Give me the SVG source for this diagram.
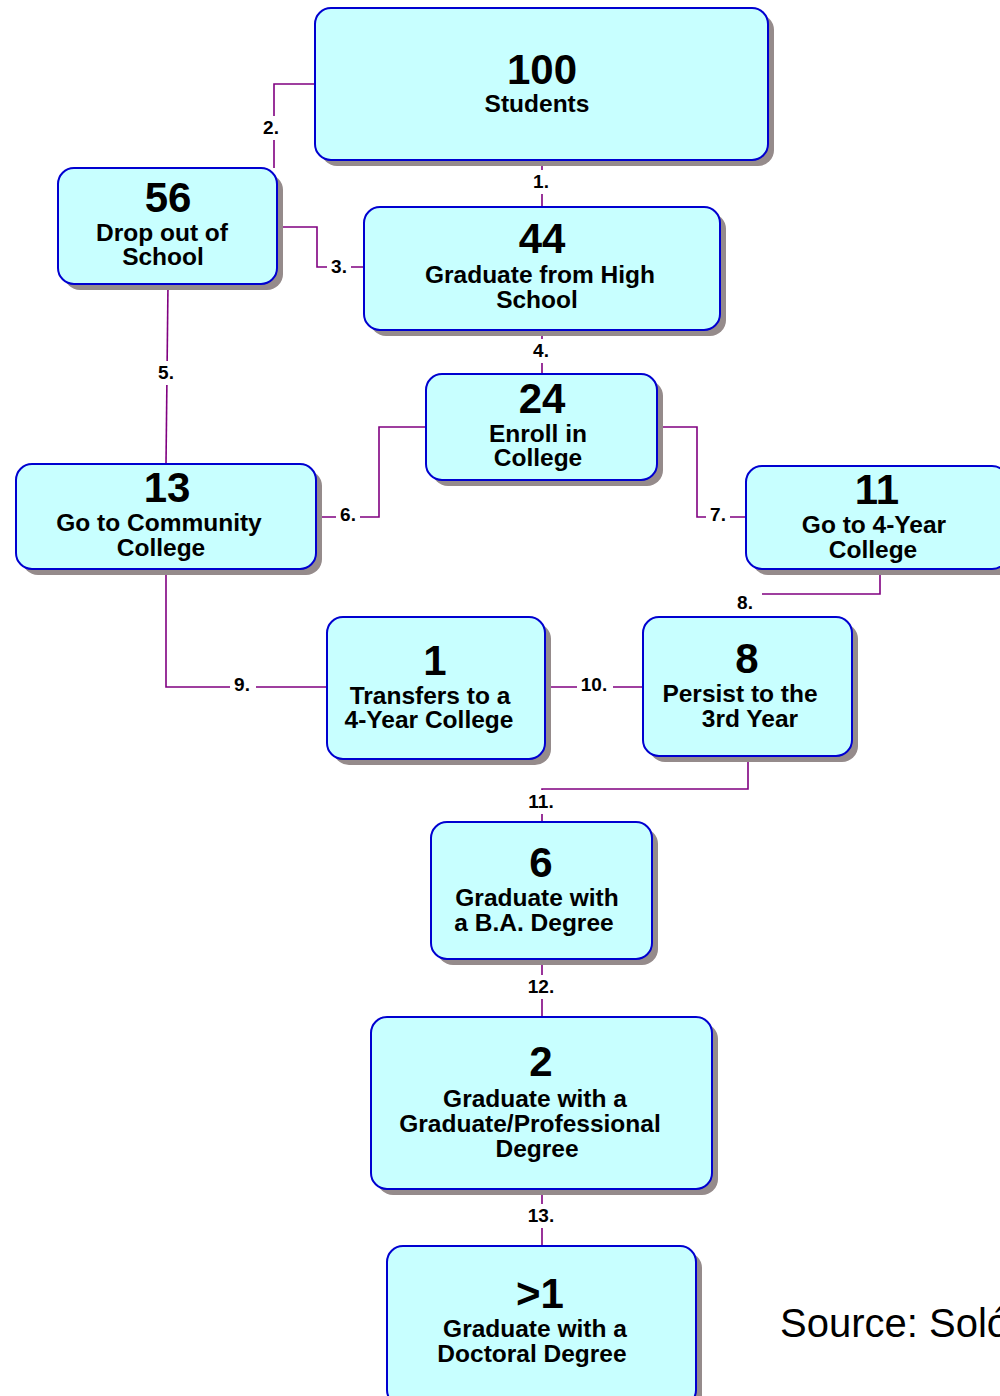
<svg xmlns="http://www.w3.org/2000/svg" width="1000" height="1396" viewBox="0 0 1000 1396">
<style>
.sh{fill:#958b8b}
.bx{fill:#c8ffff;stroke:#0000d0;stroke-width:2}
.num{font-family:"Liberation Sans",Arial,sans-serif;font-weight:bold;font-size:42px;fill:#000;text-anchor:middle}
.t{font-family:"Liberation Sans",Arial,sans-serif;font-weight:bold;font-size:24.5px;fill:#000;text-anchor:middle}
.ln{fill:none;stroke:#800080;stroke-width:1.6}
.lb{font-family:"Liberation Sans",Arial,sans-serif;font-weight:bold;font-size:19px;fill:#000;text-anchor:middle}
.lbg{fill:#fff}
</style>
<rect width="1000" height="1396" fill="#fff"/>
<g id="connectors">
<path class="ln" d="M542,160 V207"/>
<path class="ln" d="M315,84 H274 V168"/>
<path class="ln" d="M277,227 H317 V267 H364"/>
<path class="ln" d="M542,330 V374"/>
<path class="ln" d="M168,284 L166,464"/>
<path class="ln" d="M426,427 H379 V517 H316"/>
<path class="ln" d="M657,427 H697 V517 H746"/>
<path class="ln" d="M880,569 V594 H762"/>
<path class="ln" d="M166,569 V687 H327"/>
<path class="ln" d="M545,687 H643"/>
<path class="ln" d="M748,756 V789 H542 V822"/>
<path class="ln" d="M542,959 V1017"/>
<path class="ln" d="M542,1189 V1246"/>
<rect class="lbg" x="529" y="170" width="24" height="24"/><text class="lb" x="541" y="188">1.</text>
<rect class="lbg" x="259" y="116" width="24" height="24"/><text class="lb" x="271" y="134">2.</text>
<rect class="lbg" x="327" y="255" width="24" height="24"/><text class="lb" x="339" y="273">3.</text>
<rect class="lbg" x="529" y="339" width="24" height="24"/><text class="lb" x="541" y="357">4.</text>
<rect class="lbg" x="154" y="361" width="24" height="24"/><text class="lb" x="166" y="379">5.</text>
<rect class="lbg" x="336" y="503" width="24" height="24"/><text class="lb" x="348" y="521">6.</text>
<rect class="lbg" x="706" y="503" width="24" height="24"/><text class="lb" x="718" y="521">7.</text>
<text class="lb" x="745" y="609">8.</text>
<rect class="lbg" x="230" y="673" width="26" height="24"/><text class="lb" x="242" y="691">9.</text>
<rect class="lbg" x="577" y="673" width="36" height="24"/><text class="lb" x="594" y="691">10.</text>
<rect class="lbg" x="524" y="790" width="36" height="24"/><text class="lb" x="541" y="808">11.</text>
<rect class="lbg" x="524" y="975" width="36" height="24"/><text class="lb" x="541" y="993">12.</text>
<rect class="lbg" x="524" y="1204" width="36" height="24"/><text class="lb" x="541" y="1222">13.</text>
</g>
<g id="n100">
<rect class="sh" x="321" y="14" width="453" height="152" rx="16"/>
<rect class="bx" x="315" y="8" width="453" height="152" rx="16"/>
<text class="num" x="542" y="84">100</text>
<text class="t" x="537" y="112">Students</text>
</g>
<g id="n56">
<rect class="sh" x="64" y="174" width="219" height="116" rx="16"/>
<rect class="bx" x="58" y="168" width="219" height="116" rx="16"/>
<text class="num" x="168" y="212">56</text>
<text class="t" x="162" y="241">Drop out of</text>
<text class="t" x="163" y="265">School</text>
</g>
<g id="n44">
<rect class="sh" x="370" y="213" width="356" height="123" rx="16"/>
<rect class="bx" x="364" y="207" width="356" height="123" rx="16"/>
<text class="num" x="542" y="253">44</text>
<text class="t" x="540" y="283">Graduate from High</text>
<text class="t" x="537" y="308">School</text>
</g>
<g id="n24">
<rect class="sh" x="432" y="380" width="231" height="106" rx="16"/>
<rect class="bx" x="426" y="374" width="231" height="106" rx="16"/>
<text class="num" x="542" y="413">24</text>
<text class="t" x="538" y="442">Enroll in</text>
<text class="t" x="538" y="466">College</text>
</g>
<g id="n13">
<rect class="sh" x="22" y="470" width="300" height="105" rx="16"/>
<rect class="bx" x="16" y="464" width="300" height="105" rx="16"/>
<text class="num" x="167" y="502">13</text>
<text class="t" x="159" y="531">Go to Community</text>
<text class="t" x="161" y="556">College</text>
</g>
<g id="n11">
<rect class="sh" x="752" y="472" width="262" height="103" rx="16"/>
<rect class="bx" x="746" y="466" width="262" height="103" rx="16"/>
<text class="num" x="877" y="504">11</text>
<text class="t" x="874" y="533">Go to 4-Year</text>
<text class="t" x="873" y="558">College</text>
</g>
<g id="n1">
<rect class="sh" x="333" y="623" width="218" height="142" rx="16"/>
<rect class="bx" x="327" y="617" width="218" height="142" rx="16"/>
<text class="num" x="435" y="675">1</text>
<text class="t" x="430" y="704">Transfers to a</text>
<text class="t" x="429" y="728">4-Year College</text>
</g>
<g id="n8">
<rect class="sh" x="649" y="623" width="209" height="139" rx="16"/>
<rect class="bx" x="643" y="617" width="209" height="139" rx="16"/>
<text class="num" x="747" y="673">8</text>
<text class="t" x="740" y="702">Persist to the</text>
<text class="t" x="750" y="727">3rd Year</text>
</g>
<g id="n6">
<rect class="sh" x="437" y="828" width="221" height="137" rx="16"/>
<rect class="bx" x="431" y="822" width="221" height="137" rx="16"/>
<text class="num" x="541" y="877">6</text>
<text class="t" x="537" y="906">Graduate with</text>
<text class="t" x="534" y="931">a B.A. Degree</text>
</g>
<g id="n2">
<rect class="sh" x="377" y="1023" width="341" height="172" rx="16"/>
<rect class="bx" x="371" y="1017" width="341" height="172" rx="16"/>
<text class="num" x="541" y="1076">2</text>
<text class="t" x="535" y="1107">Graduate with a</text>
<text class="t" x="530" y="1132">Graduate/Professional</text>
<text class="t" x="537" y="1157">Degree</text>
</g>
<g id="ngt1">
<rect class="sh" x="393" y="1252" width="309" height="160" rx="16"/>
<rect class="bx" x="387" y="1246" width="309" height="160" rx="16"/>
<text class="num" x="540" y="1308">&gt;1</text>
<text class="t" x="535" y="1337">Graduate with a</text>
<text class="t" x="532" y="1362">Doctoral Degree</text>
</g>
<text x="780" y="1337" font-family="Liberation Sans, Arial, sans-serif" font-size="40" fill="#000">Source: Soló</text>
</svg>
